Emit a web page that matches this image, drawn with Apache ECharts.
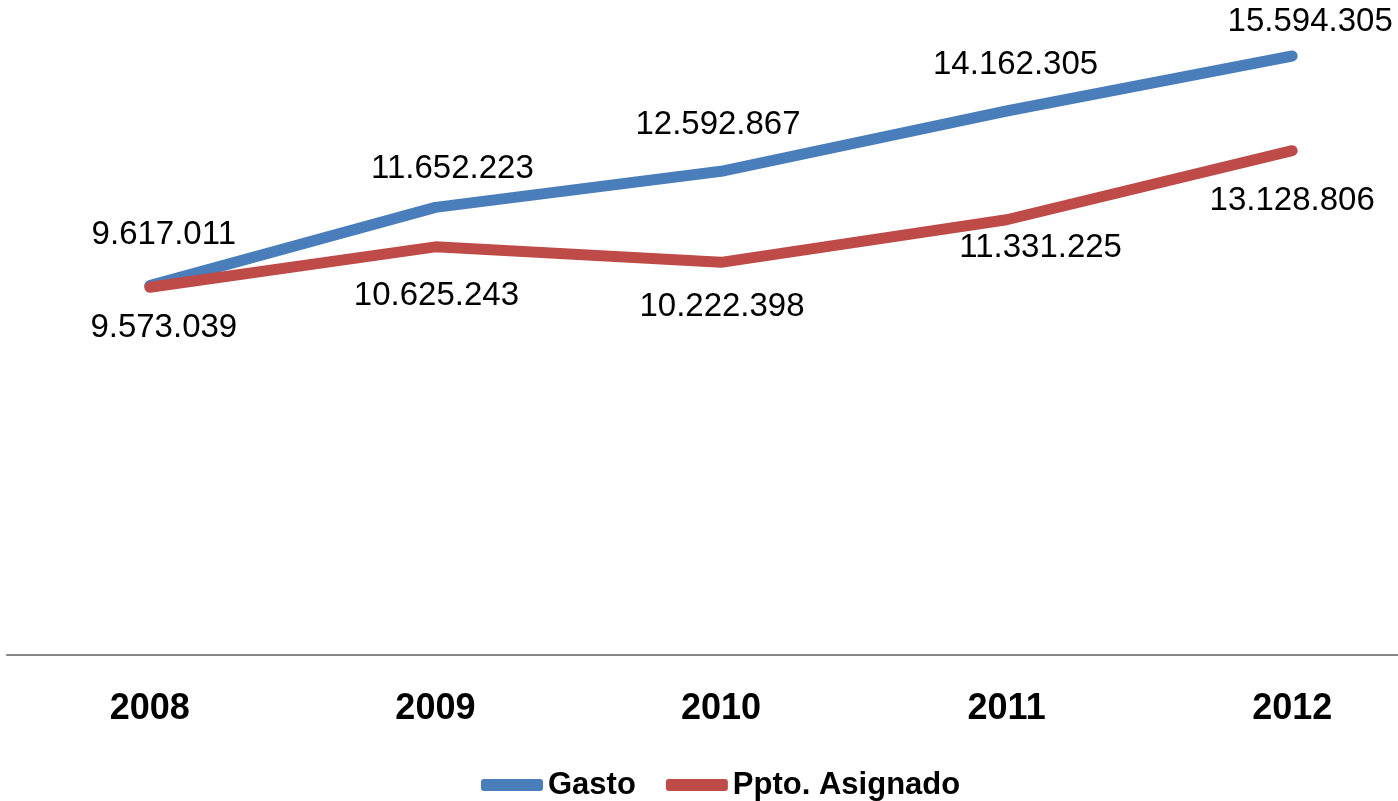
<!DOCTYPE html>
<html>
<head>
<meta charset="utf-8">
<script src="https://cdn.jsdelivr.net/npm/echarts@6/dist/echarts.min.js"></script>
<style>
  html, body { margin: 0; padding: 0; background: #fff; overflow: hidden; }
  #chart { width: 1435px; height: 801px; }
</style>
</head>
<body>
<div id="chart"></div>
<script>
// data
const years = ["2008", "2009", "2010", "2011", "2012"];
const gasto = [9617011, 11652223, 12592867, 14162305, 15594305];
const ppto = [9573039, 10625243, 10222398, 11331225, 13128806];

// label nudges (styling only), [dx, dy] per point
const gastoLabelShift = [[14, -6], [17, 6], [-3, -2], [9, -2], [18, 10]];
const pptoLabelShift = [[14, -4], [1, 4], [1, 0], [34, -16], [0, 6]];

const fmt = v => v.toLocaleString("de-DE");

function withLabels(values, shifts) {
  return values.map((v, i) => ({
    value: v,
    label: { offset: shifts[i] }
  }));
}

// the plot runs a little past the right edge of the window, as in the original
const myChart = echarts.init(document.getElementById("chart"));
const option = {
  animation: false,
  grid: { left: 7, right: 0, top: 2, bottom: 146 },
  legend: {
    left: 476,
    top: 764,
    icon: "roundRect",
    itemWidth: 62,
    itemHeight: 12,
    itemGap: 30,
    textStyle: {
      fontFamily: "Liberation Sans",
      fontWeight: "bold",
      fontSize: 31,
      color: "#000",
      lineHeight: 32
    },
    data: ["Gasto", "Ppto. Asignado"]
  },
  xAxis: {
    type: "category",
    data: years,
    boundaryGap: true,
    axisLine: { lineStyle: { color: "#868686", width: 2 } },
    axisTick: { show: false },
    axisLabel: {
      margin: 36,
      color: "#000",
      fontFamily: "Liberation Sans",
      fontWeight: "bold",
      fontSize: 36
    }
  },
  yAxis: {
    type: "value",
    min: 0,
    max: 17000000,
    show: false,
    splitLine: { show: false }
  },
  series: [
    {
      name: "Gasto",
      type: "line",
      data: withLabels(gasto, gastoLabelShift),
      symbol: "circle",
      symbolSize: 0.1,
      color: "#4a7ebb",
      lineStyle: { width: 11, cap: "round", join: "round" },
      label: {
        show: true,
        position: "top",
        distance: 28,
        formatter: p => fmt(p.value),
        color: "#000",
        fontFamily: "Liberation Sans",
        fontSize: 33
      }
    },
    {
      name: "Ppto. Asignado",
      type: "line",
      data: withLabels(ppto, pptoLabelShift),
      symbol: "circle",
      symbolSize: 0.1,
      color: "#be4b48",
      lineStyle: { width: 11, cap: "round", join: "round" },
      label: {
        show: true,
        position: "bottom",
        distance: 28,
        formatter: p => fmt(p.value),
        color: "#000",
        fontFamily: "Liberation Sans",
        fontSize: 33
      }
    }
  ]
};
myChart.setOption(option);
</script>
</body>
</html>
